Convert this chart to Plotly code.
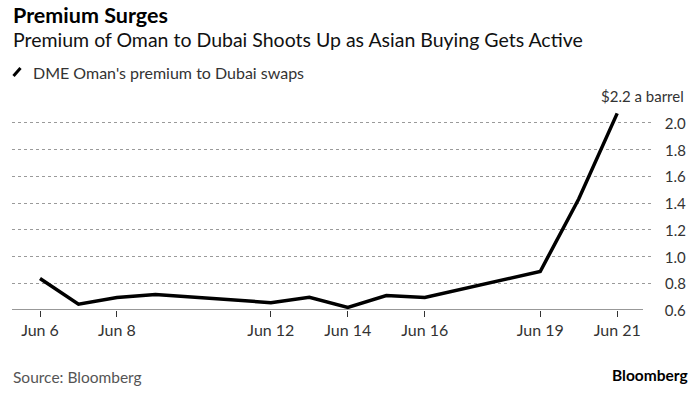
import plotly.graph_objects as go

dates = ["2023-06-06", "2023-06-07", "2023-06-08", "2023-06-09", "2023-06-12",
         "2023-06-13", "2023-06-14", "2023-06-15", "2023-06-16", "2023-06-19",
         "2023-06-20", "2023-06-21"]
premium = [0.835, 0.643, 0.693, 0.716, 0.655, 0.695, 0.620, 0.708, 0.693, 0.888,
           1.43, 2.07]

x_tick_vals = ["2023-06-06", "2023-06-08", "2023-06-12", "2023-06-14",
               "2023-06-16", "2023-06-19", "2023-06-21"]
x_tick_text = ["Jun 6", "Jun 8", "Jun 12", "Jun 14", "Jun 16", "Jun 19", "Jun 21"]
y_tick_vals = [0.6, 0.8, 1.0, 1.2, 1.4, 1.6, 1.8, 2.0, 2.2]
y_tick_text = ["0.6", "0.8", "1.0", "1.2", "1.4", "1.6", "1.8", "2.0", "$2.2 a barrel"]

FONT = "Lato"
W, H = 700, 394


def px(x):
    return x / W


def py(y):
    return 1 - y / H


fig = go.Figure()
fig.add_trace(go.Scatter(
    x=dates, y=premium, mode="lines",
    line=dict(color="#000000", width=3.5),
    showlegend=False, hoverinfo="skip"))

fig.update_layout(
    width=W, height=H,
    margin=dict(l=0, r=0, t=0, b=0),
    paper_bgcolor="white", plot_bgcolor="white",
    font=dict(family=FONT, color="#333333"),
    xaxis=dict(
        domain=[px(12), px(688)],
        type="date",
        range=["2023-06-05 06:32", "2023-06-22 20:10"],
        tickvals=x_tick_vals, ticktext=x_tick_text,
        showgrid=False, zeroline=False, showline=False,
        ticks="outside", ticklen=6, tickwidth=1, tickcolor="#333333",
        tickfont=dict(family=FONT, size=16, color="#333333"),
        fixedrange=True,
    ),
    yaxis=dict(
        domain=[py(310), py(96)],
        range=[0.6, 2.2],
        tickvals=y_tick_vals,
        showticklabels=False,
        showgrid=True, gridcolor="#9a9a9a", griddash="dot", gridwidth=1,
        zeroline=False, showline=False, fixedrange=True,
    ),
)

# right-aligned y tick labels with white backing (Bloomberg style)
for v, t in zip(y_tick_vals, y_tick_text):
    if t.startswith("$"):
        fig.add_annotation(
            x=1, xref="x domain", y=v, yref="y", text=t, showarrow=False,
            xanchor="right", yanchor="middle", align="right",
            bgcolor="white", borderpad=3,
            font=dict(family=FONT, size=15, color="#333333"))
    else:
        fig.add_annotation(
            x=1, xref="x domain", y=v, yref="y", text=t, showarrow=False,
            xanchor="right", yanchor="middle", align="right", width=31,
            bgcolor="white", borderpad=1,
            font=dict(family=FONT, size=15, color="#333333"))

# x axis baseline
fig.add_shape(type="line", xref="x domain", yref="y",
              x0=0, x1=(643 - 12) / 676, y0=0.6, y1=0.6,
              line=dict(color="#333333", width=1.2))

# titles
fig.add_annotation(x=px(11), y=py(15), xref="paper", yref="paper",
                   text="<b>Premium Surges</b>", showarrow=False,
                   xanchor="left", yanchor="middle",
                   font=dict(family=FONT, size=21.5, color="#000000"))
fig.add_annotation(x=px(11), y=py(40), xref="paper", yref="paper",
                   text="Premium of Oman to Dubai Shoots Up as Asian Buying Gets Active",
                   showarrow=False, xanchor="left", yanchor="middle",
                   font=dict(family=FONT, size=19.5, color="#111111"))

# legend
fig.add_shape(type="line", xref="paper", yref="paper",
              x0=px(13.5), x1=px(20.5), y0=py(76), y1=py(68),
              line=dict(color="#000000", width=3))
fig.add_annotation(x=px(31), y=py(72), xref="paper", yref="paper",
                   text="DME Oman's premium to Dubai swaps", showarrow=False,
                   xanchor="left", yanchor="middle",
                   font=dict(family=FONT, size=16, color="#333333"))

# footer
fig.add_annotation(x=px(11), y=py(377), xref="paper", yref="paper",
                   text="Source: Bloomberg", showarrow=False,
                   xanchor="left", yanchor="middle",
                   font=dict(family=FONT, size=15.5, color="#555555"))
fig.add_annotation(x=px(690), y=py(375), xref="paper", yref="paper",
                   text="<b>Bloomberg</b>", showarrow=False,
                   xanchor="right", yanchor="middle",
                   font=dict(family=FONT, size=15.5, color="#000000"))

fig.write_html("out.html",
               config={"displayModeBar": False, "staticPlot": True},
               post_script="document.body.style.margin='0';"
                           "document.body.style.overflow='hidden';")
